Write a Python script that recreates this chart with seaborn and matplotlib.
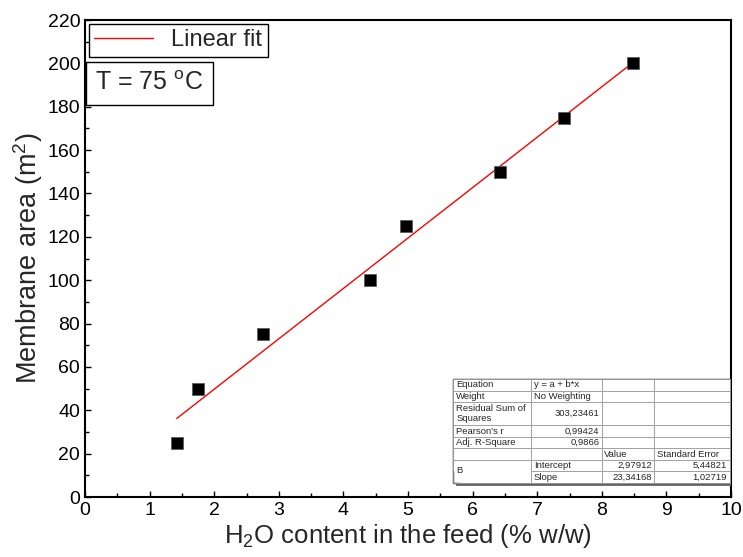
import numpy as np
import pandas as pd
import matplotlib
matplotlib.use("Agg")
import matplotlib.pyplot as plt
from matplotlib.patches import Rectangle
from matplotlib.lines import Line2D
import seaborn as sns

# ---- data ----
water_content = [1.42, 1.75, 2.75, 4.41, 4.97, 6.42, 7.41, 8.48]
membrane_area = [25, 50, 75, 100, 125, 150, 175, 200]
x_ticks = [0, 1, 2, 3, 4, 5, 6, 7, 8, 9, 10]
y_ticks = [0, 20, 40, 60, 80, 100, 120, 140, 160, 180, 200, 220]
table_rows = [
    ["Equation", "y = a + b*x", "", ""],
    ["Weight", "No Weighting", "", ""],
    ["Residual Sum of\nSquares", "303,23461", "", ""],
    ["Pearson's r", "0,99424", "", ""],
    ["Adj. R-Square", "0,9866", "", ""],
    ["", "", "Value", "Standard Error"],
    ["B", "Intercept", "2,97912", "5,44821"],
    ["", "Slope", "23,34168", "1,02719"],
]
right_aligned = {(2, 1), (3, 1), (4, 1), (6, 2), (6, 3), (7, 2), (7, 3)}

df = pd.DataFrame({"x": water_content, "y": membrane_area})

sns.set_style("ticks")
plt.rcParams["font.family"] = ["Liberation Sans", "DejaVu Sans"]
plt.rcParams["mathtext.fontset"] = "custom"
plt.rcParams["mathtext.rm"] = "Liberation Sans"

fig = plt.figure(figsize=(7.43, 5.57), dpi=100)
ax = fig.add_axes([85 / 743, 1 - 497 / 557, (731 - 85) / 743, (497 - 20) / 557])

sns.regplot(data=df, x="x", y="y", ax=ax, scatter=False, ci=None,
            color="red", line_kws={"lw": 1.0})
sns.scatterplot(data=df, x="x", y="y", ax=ax, marker="s", s=70,
                color="black", edgecolor="#555555", linewidth=0.5, zorder=5)

ax.set_xlim(0, 10)
ax.set_ylim(0, 220)
ax.set_xticks(x_ticks)
ax.set_yticks(y_ticks)
ax.set_xticks(np.arange(0.5, 10, 1.0), minor=True)
ax.set_yticks(np.arange(10, 220, 20), minor=True)
ax.tick_params(which="both", direction="in", top=False, right=False,
               labelsize=14, colors="black", width=1)
ax.tick_params(which="major", length=4)
ax.tick_params(which="minor", length=3)
for sp in ax.spines.values():
    sp.set_visible(True)
    sp.set_linewidth(1.5)
    sp.set_color("black")

ax.set_xlabel("H$_2$O content in the feed (% w/w)", fontsize=18.5, labelpad=2)
ax.set_ylabel("Membrane area (m$^2$)", fontsize=19.5, labelpad=2)

# legend
handle = Line2D([], [], color="red", lw=1.0)
leg = ax.legend([handle], ["Linear fit"], loc="upper left", fontsize=17,
                frameon=True, fancybox=False, handlelength=2.5,
                borderaxespad=0.15, borderpad=0.25, handletextpad=0.75)
leg.get_frame().set_edgecolor("black")
leg.get_frame().set_linewidth(1.0)
leg.get_frame().set_alpha(1)

ax.text(0.016, 0.893, "T = 75 $^{\\mathrm{o}}$C", transform=ax.transAxes,
        fontsize=18, va="top", ha="left",
        bbox=dict(boxstyle="square,pad=0.38", fc="white", ec="black", lw=1.0))

# statistics table
tx0 = (453 - 85) / 646
tx1 = (730 - 85) / 646
ty1 = (497 - 379) / 477
ty0 = (497 - 483) / 477
col_w = [78, 71, 52, 76]
tbl = ax.table(cellText=table_rows, colWidths=[c / sum(col_w) for c in col_w],
               cellLoc="left", bbox=[tx0, ty0, tx1 - tx0, ty1 - ty0], zorder=6)
tbl.auto_set_font_size(False)
tbl.set_fontsize(6.8)
for (r, c), cell in tbl.get_celld().items():
    cell.set_edgecolor("#9a9a9a")
    cell.set_linewidth(0.6)
    cell.PAD = 0.04
    if (r, c) in right_aligned:
        cell._loc = "right"
        cell.get_text().set_ha("right")
    if r == 2:
        cell.set_height(cell.get_height() * 2)
    if c == 0 and r == 6:
        cell.visible_edges = "LTR"
    if c == 0 and r == 7:
        cell.visible_edges = "LRB"
tbl.get_celld()[(6, 0)].get_text().set_va("top")

ax.add_patch(Rectangle((tx0 + 0.004, ty0 - 0.006), tx1 - tx0, ty1 - ty0,
                       transform=ax.transAxes, fc="#777777", ec="none", zorder=5.5))
ax.add_patch(Rectangle((tx0, ty0), tx1 - tx0, ty1 - ty0, transform=ax.transAxes,
                       fc="white", ec="black", lw=1.0, zorder=5.8))

fig.savefig("out.png", dpi=100)
